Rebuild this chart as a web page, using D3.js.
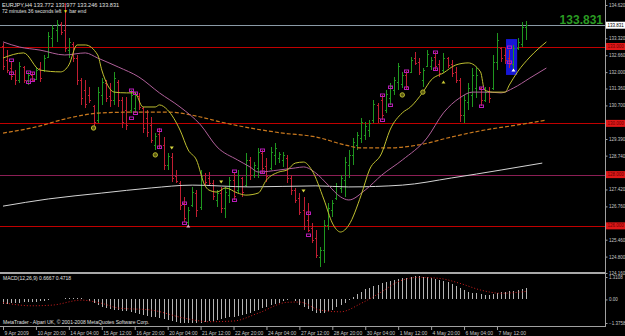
<!DOCTYPE html>
<html>
<head>
<meta charset="utf-8">
<script src="https://cdn.jsdelivr.net/npm/d3@7"></script>
<style>
  body { margin: 0; background: #000; }
  svg text { font-family: "Liberation Sans", Arial, sans-serif; }
</style>
</head>
<body>
<div id="chart"></div>
<script>
// EURJPY H4, bars 9 Apr 2009 12:00 .. 8 May 2009 16:00
var tickBars = [0, 8, 16, 24, 32, 40, 48, 56, 64, 72, 80, 88, 96, 104, 112, 120];
var tickLabels = ["9 Apr 2009", "10 Apr 20:00", "14 Apr 04:00", "15 Apr 12:00", "16 Apr 20:00",
  "20 Apr 04:00", "21 Apr 12:00", "22 Apr 20:00", "24 Apr 04:00", "27 Apr 12:00", "28 Apr 20:00",
  "30 Apr 04:00", "1 May 12:00", "4 May 20:00", "6 May 04:00", "7 May 12:00"];
var priceTicks = [134.620, 133.970, 133.320, 132.660, 132.000, 131.360, 130.700, 130.050, 129.390,
  128.740, 128.080, 127.420, 126.760, 126.120, 125.460, 124.800, 124.160];

var opens = [133.02,132.47,132.16,131.93,131.69,132.20,131.69,131.89,131.73,132.16,
  132.08,132.59,133.33,133.64,133.88,133.64,132.86,133.10,132.55,131.69,
  131.30,131.11,130.68,130.13,131.11,131.58,131.07,130.91,131.61,130.91,
  130.52,130.52,130.60,131.07,130.60,130.21,129.94,129.16,129.58,129.16,
  128.37,128.69,127.95,127.67,126.89,126.15,126.81,127.28,126.74,127.98,
  127.87,127.67,127.01,127.28,126.70,127.20,127.79,127.40,127.87,127.59,
  128.57,127.98,128.26,128.84,128.34,128.26,128.77,128.65,128.57,128.65,
  127.87,127.40,127.09,126.62,126.23,125.92,125.53,124.78,125.06,126.03,
  126.62,127.09,127.48,127.79,128.37,128.77,129.16,129.43,129.55,129.74,
  130.13,130.72,130.91,130.52,130.99,131.30,131.61,131.54,131.89,132.01,
  132.55,132.40,131.69,132.24,132.24,132.59,132.32,132.08,132.55,132.32,
  132.01,131.69,130.33,130.83,131.11,131.38,131.38,130.91,131.22,131.38,
  132.40,132.94,132.67,132.55,132.32,132.94,133.10,133.772];
var highs = [133.14,132.86,132.40,132.08,132.40,132.24,132.01,132.01,132.16,132.40,
  132.67,133.57,133.84,134.03,133.96,134.70,133.33,133.18,132.67,131.77,
  131.69,131.42,130.72,131.42,131.77,131.69,131.58,132.01,131.69,131.03,
  131.03,131.30,131.22,131.19,130.64,130.52,130.25,129.62,129.82,129.47,
  128.84,128.84,128.18,127.75,127.13,126.74,127.52,127.40,128.18,128.06,
  128.10,127.79,127.40,127.52,127.52,127.91,128.06,128.18,127.91,128.84,
  128.69,128.49,129.04,128.96,128.65,129.08,129.23,128.88,128.88,128.77,
  127.98,127.48,127.28,127.13,126.89,126.11,125.84,125.18,126.23,126.89,
  127.01,127.67,127.98,128.69,128.96,129.43,129.66,130.21,130.05,130.13,
  130.91,130.79,131.11,131.30,131.58,131.81,132.36,132.01,132.04,132.59,
  132.79,132.55,132.16,132.86,132.59,132.79,132.47,132.75,132.59,132.47,
  132.20,131.77,131.11,131.58,132.16,132.20,131.42,131.42,131.42,132.67,
  133.53,132.98,132.94,132.86,133.06,133.33,133.96,133.977];
var lows = [132.08,131.97,131.69,131.50,131.58,131.58,131.50,131.61,131.69,131.61,
  132.01,132.55,132.98,133.18,133.45,132.79,132.55,132.40,131.50,130.72,
  130.60,130.79,129.86,130.01,130.72,130.83,130.64,130.72,130.64,129.82,
  129.74,130.41,130.44,130.52,129.62,129.47,129.23,128.96,129.04,128.18,
  128.18,127.71,127.67,126.62,126.15,125.96,126.74,126.35,126.62,127.59,
  127.59,127.01,126.74,126.50,126.31,126.89,127.01,127.28,127.13,127.52,
  127.79,127.87,127.87,128.06,127.71,128.18,128.37,128.45,128.30,127.67,
  127.20,126.89,126.42,125.84,125.76,125.33,124.75,124.39,124.55,125.84,
  126.35,127.01,127.28,127.13,127.87,128.37,128.96,129.23,129.35,129.47,
  130.01,130.01,130.13,130.41,130.72,131.11,131.30,131.38,131.30,131.97,
  132.28,131.89,131.42,132.20,132.08,132.08,131.81,131.97,132.16,131.81,
  131.58,130.05,130.01,130.52,130.64,130.99,130.68,130.83,130.79,131.30,
  132.08,132.40,132.32,132.16,132.08,132.86,132.98,133.246];
var closes = [132.24,132.08,131.85,131.69,132.24,131.69,131.89,131.69,132.08,131.77,
  132.55,133.41,133.72,133.88,133.57,132.94,133.18,132.55,131.69,130.99,
  130.76,130.91,130.05,131.22,131.61,130.99,130.91,131.77,130.91,130.05,
  129.94,131.11,131.11,130.64,129.82,129.66,129.35,129.51,129.16,128.37,
  128.73,127.87,127.75,126.81,126.31,126.62,127.32,126.62,127.95,127.71,
  127.67,127.17,127.28,126.70,127.32,127.79,127.17,127.98,127.32,128.57,
  127.98,128.37,128.88,128.26,127.95,128.88,129.04,128.80,128.77,127.87,
  127.40,127.01,126.54,126.00,125.84,125.45,124.86,125.06,126.03,126.70,
  126.89,127.56,127.87,128.49,128.77,129.27,129.55,130.05,129.90,130.01,
  130.76,130.21,130.33,131.15,131.46,131.69,132.24,131.89,131.46,132.47,
  132.36,132.01,132.08,132.71,132.47,132.24,131.97,132.55,132.28,131.97,
  131.69,130.33,130.91,131.38,131.89,131.89,130.91,131.22,130.99,132.40,
  133.25,132.55,132.47,132.32,132.94,133.18,133.76,133.831];

// moving averages: [bar, price]
var maYellow = [[0,132.55],[5,132.75],[9,132.08],[14,132.01],[16,132.28],[18,133.06],[20,133.06],
  [23,132.67],[24,132.08],[27,131.22],[30,131.19],[32,131.19],[34,130.64],[37,130.64],[38,130.72],
  [40,130.52],[43,129.74],[45,128.96],[47,128.57],[49,127.59],[50,127.40],[52,127.32],[54,127.48],
  [57,127.28],[59,127.20],[62,127.28],[64,127.79],[67,128.10],[69,128.18],[71,128.45],[73,128.49],
  [75,128.18],[78,127.01],[80,126.11],[82,125.76],[84,126.03],[87,127.20],[89,128.18],[92,128.84],
  [94,129.74],[97,130.41],[99,130.64],[102,131.22],[104,131.69],[107,131.97],[110,132.28],
  [113,132.36],[116,132.01],[117,131.30],[119,131.22],[122,131.22],[123,131.50],[125,132.01],
  [128,132.59],[132,133.18]];
var maPink = [[0,133.18],[4,132.98],[9,132.86],[15,132.67],[20,132.75],[23,132.55],[28,132.20],
  [33,131.81],[38,131.19],[43,130.64],[48,129.94],[52,129.08],[57,128.57],[60,128.30],[62,128.10],
  [67,128.18],[71,128.26],[73,128.30],[76,128.06],[79,127.59],[82,127.13],[84,127.01],[88,127.40],
  [92,127.98],[97,128.57],[103,129.43],[107,130.41],[111,131.00],[114,131.22],[118,131.22],
  [121,131.19],[124,131.38],[128,131.77],[132,132.16]];
var maOrange = [[0,129.62],[8,129.86],[16,130.21],[24,130.41],[32,130.44],[40,130.44],[48,130.25],
  [53,130.05],[60,129.82],[68,129.62],[76,129.47],[83,129.16],[87,129.04],[93,129.04],[101,129.16],
  [109,129.47],[117,129.74],[125,129.94],[132,130.13]];
var maWhite = [[0,126.77],[11,127.05],[24,127.28],[36,127.48],[46,127.59],[60,127.52],[76,127.56],
  [84,127.52],[97,127.59],[109,127.87],[121,128.18],[131,128.45]];

var squares = [[2,132.47],[2,131.97],[6,132.01],[6,131.61],[7,131.97],[7,131.69],[31,131.30],[31,130.21],
  [32,131.19],[32,130.41],[38,129.74],[38,129.08],[44,126.89],[44,126.11],[56,128.14],[56,127.01],
  [63,128.96],[63,128.10],[74,126.50],[74,125.64],[92,131.11],[92,130.13],[94,131.42],[94,130.72],
  [98,132.04],[98,131.38],[105,132.79],[105,132.12],[116,131.38],[116,130.68],[123,132.98],[123,132.40]];
var circles = [[22,129.82],[37,128.77],[97,131.11],[102,131.22]];
var downArrows = [[41,129.04],[53,127.71],[73,127.36]];
var upArrows = [[45,125.99],[107,131.61],[124,132.08]];
var upArrowColors = ["#e8a0c8", "#c8c832", "#ffffff"];

var boxBars = [122.2, 124.9];
var boxPrices = [133.29, 131.89];

var levels = [133.0, 130.0, 128.0, 126.0];
var levelColors = ["#c00000", "#c00000", "#8b1f55", "#c00000"];
var bid = 133.831;

var macdMain = [-0.25,-0.25,-0.22,-0.2,-0.18,-0.15,-0.15,-0.14,-0.13,-0.12,
  -0.1,-0.05,0,0.03,0.05,0.08,0.1,0.1,0.1,0.08,
  0.05,-0.1,-0.2,-0.35,-0.45,-0.5,-0.55,-0.6,-0.62,-0.65,
  -0.7,-0.75,-0.8,-0.85,-0.9,-0.95,-1.0,-1.05,-1.1,-1.15,
  -1.2,-1.25,-1.3,-1.35,-1.37,-1.38,-1.38,-1.37,-1.35,-1.32,
  -1.28,-1.25,-1.2,-1.15,-1.1,-1.05,-1.0,-0.95,-0.9,-0.85,
  -0.8,-0.7,-0.6,-0.5,-0.45,-0.35,-0.25,-0.2,-0.1,-0.05,
  0.02,-0.1,-0.3,-0.45,-0.55,-0.7,-0.78,-0.8,-0.8,-0.7,
  -0.6,-0.45,-0.35,-0.2,-0.05,0.15,0.3,0.45,0.6,0.68,
  0.78,0.85,0.95,1.0,1.07,1.12,1.2,1.25,1.28,1.3,
  1.35,1.37,1.33,1.3,1.25,1.2,1.15,1.1,1.0,0.9,
  0.8,0.65,0.55,0.45,0.4,0.37,0.33,0.26,0.28,0.3,
  0.35,0.42,0.45,0.5,0.52,0.58,0.63,0.67];
var macdSignal = [[0,-0.19],[7,-0.37],[12,-0.33],[19,-0.04],[24,-0.23],[28,-0.5],[36,-0.62],[44,-1.09],
  [50,-1.3],[56,-1.26],[62,-0.8],[69,-0.17],[72,-0.15],[77,-0.62],[82,-0.72],[87,-0.23],[92,0.45],
  [96,1.04],[101,1.29],[106,1.23],[111,0.94],[116,0.55],[121,0.36],[127,0.47]];
var macdTicks = [1.3108, 0, -1.3758];

var width = 625, height = 336;
var plotRight = 605;

var svg = d3.select("#chart").append("svg")
    .attr("width", width)
    .attr("height", height)
    .style("background", "#000")
    .style("display", "block");

var x = d3.scaleLinear().domain([0, 127]).range([3, 525.8]);
var y = d3.scaleLinear().domain([124.16, 134.62]).range([273, 5]);
var yM = d3.scaleLinear().domain([-1.3758, 1.3108]).range([323, 277]);

var px = d => Math.round(x(d)) + 0.5;

var main = svg.append("g");
main.append("clipPath").attr("id", "clipMain")
    .append("rect").attr("x", 0).attr("y", 0).attr("width", plotRight).attr("height", 271);
var plot = main.append("g").attr("clip-path", "url(#clipMain)");

// horizontal lines
plot.append("line")
    .attr("x1", 0).attr("x2", plotRight)
    .attr("y1", Math.round(y(bid)) + 0.5).attr("y2", Math.round(y(bid)) + 0.5)
    .attr("stroke", "#8a9aa6");
plot.selectAll("line.level").data(levels).enter().append("line")
    .attr("class", "level")
    .attr("x1", 0).attr("x2", plotRight)
    .attr("y1", d => Math.round(y(d)) + 0.5).attr("y2", d => Math.round(y(d)) + 0.5)
    .attr("stroke", (d, i) => levelColors[i]);

// blue box object
plot.append("rect")
    .attr("x", x(boxBars[0])).attr("width", x(boxBars[1]) - x(boxBars[0]))
    .attr("y", y(boxPrices[0])).attr("height", y(boxPrices[1]) - y(boxPrices[0]))
    .attr("fill", "#1616d6");

// OHLC bars
var bars = d3.range(opens.length).map(i => ({i: i, o: opens[i], h: highs[i], l: lows[i], c: closes[i]}));
var barColor = d => d.c >= d.o ? "#1f961f" : "#c01e32";
var bg = plot.append("g").attr("shape-rendering", "crispEdges");
bg.selectAll("line.hl").data(bars).enter().append("line")
    .attr("x1", d => px(d.i)).attr("x2", d => px(d.i))
    .attr("y1", d => y(d.h)).attr("y2", d => y(d.l))
    .attr("stroke", barColor);
bg.selectAll("line.op").data(bars).enter().append("line")
    .attr("x1", d => px(d.i) - 1.5).attr("x2", d => px(d.i))
    .attr("y1", d => Math.round(y(d.o)) + 0.5).attr("y2", d => Math.round(y(d.o)) + 0.5)
    .attr("stroke", barColor);
bg.selectAll("line.cl").data(bars).enter().append("line")
    .attr("x1", d => px(d.i)).attr("x2", d => px(d.i) + 1.5)
    .attr("y1", d => Math.round(y(d.c)) + 0.5).attr("y2", d => Math.round(y(d.c)) + 0.5)
    .attr("stroke", barColor);

// moving averages
var maLine = d3.line().x(d => x(d[0])).y(d => y(d[1])).curve(d3.curveMonotoneX);
plot.append("path").attr("d", maLine(maWhite)).attr("fill", "none").attr("stroke", "#d4d4d4").attr("stroke-width", 1);
plot.append("path").attr("d", maLine(maOrange)).attr("fill", "none").attr("stroke", "#c8781e")
    .attr("stroke-width", 1.2).attr("stroke-dasharray", "4,2");
plot.append("path").attr("d", maLine(maPink)).attr("fill", "none").attr("stroke", "#b0609a").attr("stroke-width", 1);
plot.append("path").attr("d", maLine(maYellow)).attr("fill", "none").attr("stroke", "#c0c030").attr("stroke-width", 1);

// markers
plot.selectAll("rect.sq").data(squares).enter().append("rect")
    .attr("x", d => px(d[0]) - 2).attr("y", d => Math.round(y(d[1])) - 1)
    .attr("width", 4).attr("height", 2.5)
    .attr("fill", "none").attr("stroke", "#b81cb8").attr("stroke-width", 1);
plot.selectAll("circle.c").data(circles).enter().append("circle")
    .attr("cx", d => x(d[0])).attr("cy", d => y(d[1])).attr("r", 2.2)
    .attr("fill", "#5a5a10").attr("stroke", "#b8b830").attr("stroke-width", 1);
plot.selectAll("path.dn").data(downArrows).enter().append("path")
    .attr("d", d => { var cx = x(d[0]), cy = y(d[1]); return `M${cx - 2},${cy - 1.5}L${cx + 2},${cy - 1.5}L${cx},${cy + 1.5}Z`; })
    .attr("fill", "#d8d840");
plot.selectAll("path.up").data(upArrows).enter().append("path")
    .attr("d", d => { var cx = x(d[0]), cy = y(d[1]); return `M${cx - 2},${cy + 1.5}L${cx + 2},${cy + 1.5}L${cx},${cy - 1.5}Z`; })
    .attr("fill", (d, i) => upArrowColors[i]);

// MACD window
var mg = svg.append("g").attr("shape-rendering", "crispEdges");
mg.selectAll("line.h").data(macdMain).enter().append("line")
    .attr("x1", (d, i) => px(i)).attr("x2", (d, i) => px(i))
    .attr("y1", yM(0)).attr("y2", d => yM(d))
    .attr("stroke", "#b4b4b4");
var sigLine = d3.line().x(d => x(d[0])).y(d => yM(d[1])).curve(d3.curveMonotoneX);
svg.append("path").attr("d", sigLine(macdSignal)).attr("fill", "none")
    .attr("stroke", "#d01e1e").attr("stroke-width", 1).attr("stroke-dasharray", "1,2");

// frame
var frame = svg.append("g").attr("shape-rendering", "crispEdges");
frame.append("rect").attr("x", 0).attr("y", 271.5).attr("width", plotRight).attr("height", 2.5).attr("fill", "#a8a8a8");
frame.append("line").attr("x1", plotRight + 0.5).attr("x2", plotRight + 0.5).attr("y1", 0).attr("y2", 327).attr("stroke", "#a0a0a0");
frame.append("line").attr("x1", 0).attr("x2", plotRight + 1).attr("y1", 326.5).attr("y2", 326.5).attr("stroke", "#a0a0a0");

// price axis: labels hidden under a level box are left out
var boxed = levels.concat([bid]);
var shownTicks = priceTicks.filter(t => boxed.every(v => Math.abs(y(t) - y(v)) > 4.5));
var yAxis = d3.axisRight(y).tickValues(shownTicks).tickSize(2).tickPadding(1.5).tickFormat(d3.format(".3f"));
var ya = svg.append("g").attr("transform", `translate(${plotRight + 0.5},0)`).call(yAxis);
ya.select(".domain").remove();
ya.selectAll(".tick line").attr("stroke", "#a0a0a0");
ya.selectAll(".tick text").attr("fill", "#c8c8c8").style("font-size", "4.5px");

// level labels on the axis
var lab = svg.append("g");
lab.selectAll("rect.lv").data(levels).enter().append("rect")
    .attr("x", plotRight + 1).attr("y", d => y(d) - 3.5).attr("width", 19).attr("height", 7)
    .attr("fill", "#e01818");
lab.selectAll("text.lv").data(levels).enter().append("text")
    .attr("x", plotRight + 2.5).attr("y", d => y(d) + 1.6)
    .attr("fill", "#6a0000").style("font-size", "4.5px")
    .text(d => d3.format(".3f")(d));
lab.append("rect").attr("x", plotRight + 1).attr("y", y(bid) - 3.5).attr("width", 19).attr("height", 7).attr("fill", "#ffffff");
lab.append("text").attr("x", plotRight + 2.5).attr("y", y(bid) + 1.6)
    .attr("fill", "#000").style("font-size", "4.5px").text(d3.format(".3f")(bid));

// MACD axis
var mAxis = d3.axisRight(yM).tickValues(macdTicks).tickSize(2).tickPadding(1.5)
    .tickFormat(d => d === 0 ? "0.00" : d3.format(".4f")(d));
var mAx = svg.append("g").attr("transform", `translate(${plotRight + 0.5},0)`).call(mAxis);
mAx.select(".domain").remove();
mAx.selectAll(".tick line").attr("stroke", "#a0a0a0");
mAx.selectAll(".tick text").attr("fill", "#c8c8c8").style("font-size", "4.5px");

// time axis
var xAxis = d3.axisBottom(x).tickValues(tickBars).tickSize(3).tickPadding(1)
    .tickFormat((d, i) => tickLabels[i]);
var xa = svg.append("g").attr("transform", "translate(0,327)").call(xAxis);
xa.select(".domain").remove();
xa.selectAll(".tick line").attr("stroke", "#a0a0a0");
xa.selectAll(".tick text").attr("fill", "#c8c8c8").style("font-size", "5px")
    .attr("text-anchor", "start").attr("x", 1);

// texts
svg.append("text").attr("x", 2).attr("y", 7).attr("fill", "#e0e0e0").style("font-size", "5.6px")
    .text("EURJPY,H4  133.772 133.977 133.246 133.831");
var t2 = svg.append("text").attr("x", 2).attr("y", 12.5).attr("fill", "#e0e0e0").style("font-size", "5px");
t2.append("tspan").text("72 minutes 36 seconds left ");
t2.append("tspan").attr("fill", "#e8e020").text("\u25BC");
t2.append("tspan").text(" bar end");
svg.append("text").attr("x", plotRight - 2).attr("y", 24).attr("text-anchor", "end")
    .attr("fill", "#2a9a22").style("font-size", "12px").style("font-weight", "bold")
    .text(d3.format(".3f")(bid));
svg.append("text").attr("x", 3).attr("y", 280).attr("fill", "#e0e0e0").style("font-size", "5px")
    .text("MACD(12,26,9) 0.6667 0.4718");
svg.append("text").attr("x", 3).attr("y", 324).attr("fill", "#e0e0e0").style("font-size", "5px")
    .text("MetaTrader - Alpari UK, \u00A9 2001-2008 MetaQuotes Software Corp.");
</script>
</body>
</html>
